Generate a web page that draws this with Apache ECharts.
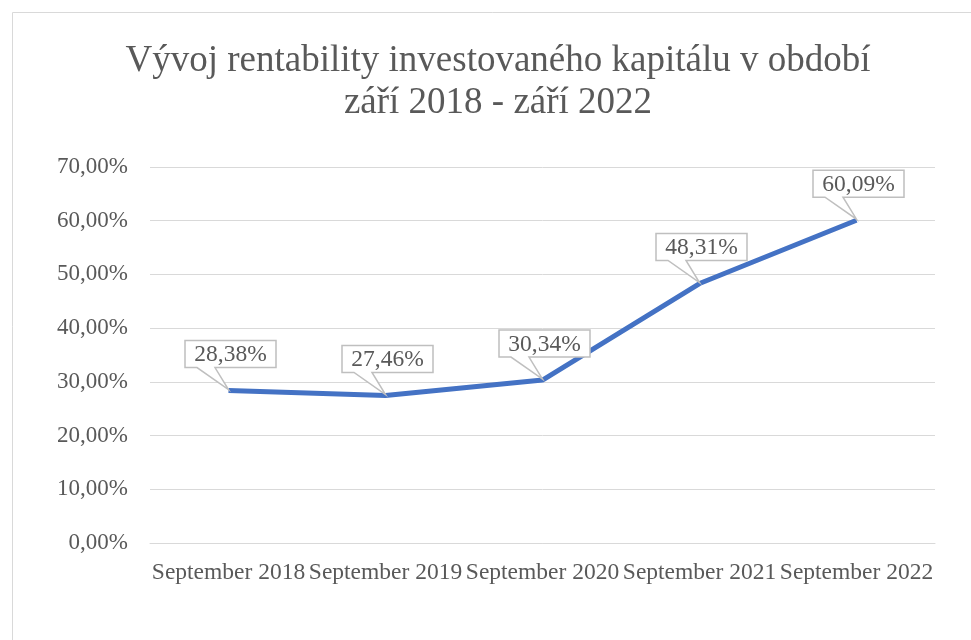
<!DOCTYPE html>
<html>
<head>
<meta charset="utf-8">
<script src="https://cdn.jsdelivr.net/npm/echarts@6/dist/echarts.min.js"></script>
<style>
html, body { margin: 0; padding: 0; background: #fff; }
#main { width: 971px; height: 640px; }
</style>
</head>
<body>
<div id="main"></div>
<script>
// data
var categories = ['September 2018', 'September 2019', 'September 2020', 'September 2021', 'September 2022'];
var values = [28.38, 27.46, 30.34, 48.31, 60.09];
var yTicks = [0, 10, 20, 30, 40, 50, 60, 70];

var serif = '"Liberation Serif", "Times New Roman", serif';
var txt = '#595959';

function fmt(v) {
    return v.toFixed(2).replace('.', ',') + '%';
}

var myChart = echarts.init(document.getElementById('main'));
var option = {
    animation: false,
    title: {
        text: 'Vývoj rentability investovaného kapitálu v období\nzáří 2018 - září 2022',
        left: 493,
        top: 35,
        textAlign: 'center',
        textStyle: {
            fontFamily: serif,
            fontSize: 37,
            fontWeight: 'normal',
            color: txt,
            lineHeight: 42
        }
    },
    graphic: [{
        type: 'rect',
        shape: { x: 12.5, y: 12.5, width: 980, height: 660 },
        style: { fill: 'none', stroke: '#d9d9d9', lineWidth: 1 },
        silent: true
    }],
    grid: {
        left: 150,
        right: 36,
        top: 167,
        bottom: 97
    },
    xAxis: {
        type: 'category',
        data: categories,
        boundaryGap: true,
        axisLine: { lineStyle: { color: '#d9d9d9', width: 1 } },
        axisTick: { show: false },
        axisLabel: {
            interval: 0,
            margin: 18,
            fontFamily: serif,
            fontSize: 23.5,
            color: txt
        }
    },
    yAxis: {
        type: 'value',
        min: yTicks[0],
        max: yTicks[yTicks.length - 1],
        interval: 10,
        axisLine: { show: false },
        axisTick: { show: false },
        splitLine: { lineStyle: { color: '#d9d9d9', width: 1 } },
        axisLabel: {
            margin: 22,
            fontFamily: serif,
            fontSize: 23,
            color: txt,
            formatter: function (v) { return fmt(v); }
        }
    },
    series: [{
        type: 'line',
        data: values,
        symbol: 'none',
        lineStyle: { color: '#4472C4', width: 5 },
        z: 2
    }, {
        type: 'custom',
        data: values.map(function (v, i) { return [i, v]; }),
        z: 5,
        renderItem: function (params, api) {
            var p = api.coord([api.value(0), api.value(1)]);
            var w = 91, h = 27;
            var x0 = p[0] - w / 2 + 2, x1 = x0 + w;
            var y1 = p[1] - 23, y0 = y1 - h;
            var tl = x0 + 12, tr = x0 + 30;
            var pts = [
                [x0, y0], [x1, y0], [x1, y1], [tr, y1],
                [p[0], p[1] - 1], [tl, y1], [x0, y1]
            ];
            return {
                type: 'group',
                children: [{
                    type: 'polygon',
                    shape: { points: pts },
                    style: { fill: '#ffffff', stroke: '#bfbfbf', lineWidth: 1.5 }
                }, {
                    type: 'text',
                    style: {
                        x: (x0 + x1) / 2,
                        y: (y0 + y1) / 2 + 1,
                        text: fmt(api.value(1)),
                        fill: txt,
                        font: '23.5px ' + serif,
                        align: 'center',
                        verticalAlign: 'middle'
                    }
                }]
            };
        }
    }]
};
myChart.setOption(option);
</script>
</body>
</html>
